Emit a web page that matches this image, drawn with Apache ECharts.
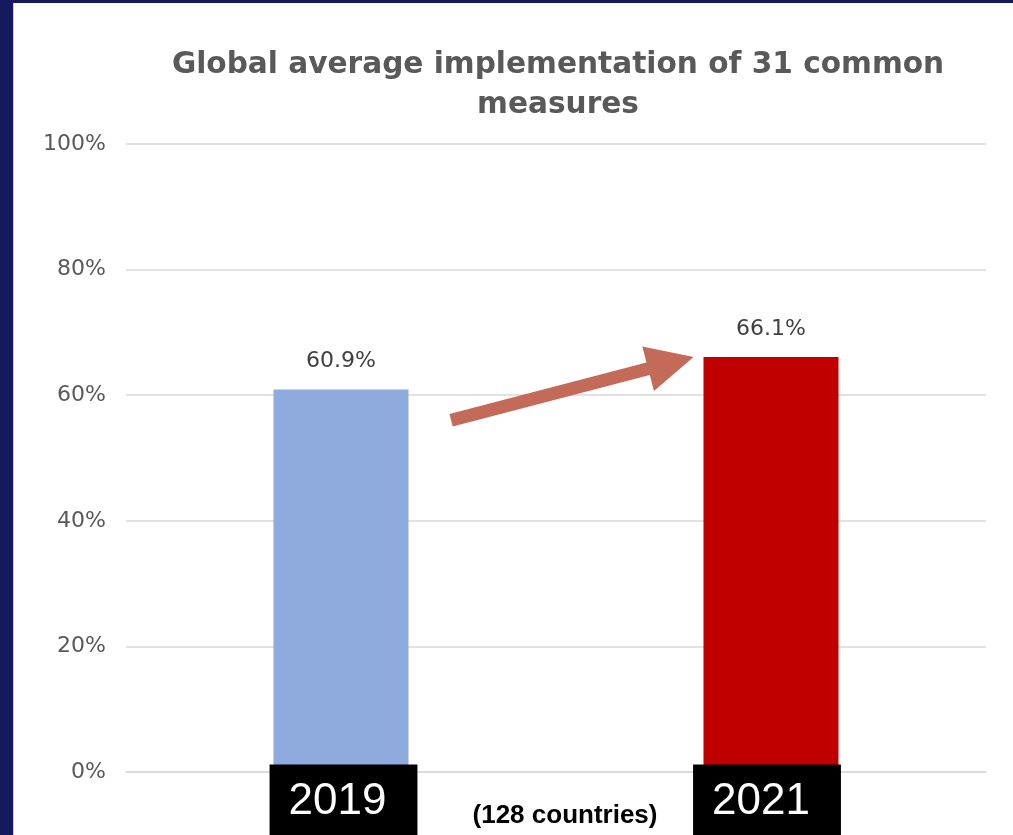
<!DOCTYPE html>
<html>
<head>
<meta charset="utf-8">
<script src="https://cdn.jsdelivr.net/npm/echarts@6/dist/echarts.min.js"></script>
<style>
html,body{margin:0;padding:0;background:#151a5e;width:1013px;height:835px;overflow:hidden;}
#chart{position:absolute;left:13px;top:3px;width:1000px;height:832px;background:#fff;border-left:1px solid #c8c8d0;}
</style>
</head>
<body>
<div id="chart"></div>
<script>
const titleLines = ['Global average implementation of 31 common', 'measures'];
const categories = ['2019', '2021'];
const values = [60.9, 66.1];
const barColors = ['#8faadc', '#c00000'];
const yTicks = [0, 20, 40, 60, 80, 100];
const footnote = '(128 countries)';
const arrowFrom = { cat: 0, offset: 0.256, value: 56.0 };
const arrowTo = { cat: 1, offset: -0.18, value: 66.1 };

const chart = echarts.init(document.getElementById('chart'));
const boxStyle = {
  fontFamily: 'Liberation Sans',
  fontSize: 44,
  lineHeight: 44,
  color: '#fff',
  backgroundColor: '#000',
  padding: [15, 31, 20, 19]
};
const option = {
  animation: false,
  backgroundColor: '#fff',
  grid: { left: 112, right: 28, top: 141, bottom: 63, containLabel: false, outerBoundsMode: 'none' },
  xAxis: {
    type: 'category',
    z: 5,
    data: categories,
    axisLine: { lineStyle: { color: '#d9d9d9', width: 1.5 } },
    axisTick: { show: false },
    axisLabel: {
      margin: 10,
      formatter: (v, i) => i === 0 ? '{sp0|}{box|' + v + '}' : '{box|' + v + '}{sp1|}',
      rich: {
        box: boxStyle,
        sp0: { width: 5, height: 10 },
        sp1: { width: 8, height: 10 }
      }
    }
  },
  yAxis: {
    type: 'value',
    min: yTicks[0],
    max: yTicks[yTicks.length - 1],
    interval: 20,
    axisLine: { show: false },
    axisTick: { show: false },
    splitLine: { lineStyle: { color: '#d9d9d9', width: 1.5 } },
    axisLabel: {
      margin: 20,
      formatter: '{value}%',
      fontFamily: 'DejaVu Sans',
      fontSize: 22,
      color: '#595959'
    }
  },
  series: [{
    type: 'bar',
    barWidth: '31.4%',
    data: values.map((v, i) => ({ value: v, itemStyle: { color: barColors[i] } })),
    label: {
      show: true,
      position: 'top',
      distance: 17,
      formatter: p => p.value.toFixed(1) + '%',
      fontFamily: 'DejaVu Sans',
      fontSize: 22,
      color: '#404040'
    }
  }]
};
chart.setOption(option);

function drawExtras() {
  const c0 = chart.convertToPixel({ xAxisIndex: 0 }, categories[0]);
  const c1 = chart.convertToPixel({ xAxisIndex: 0 }, categories[1]);
  const band = c1 - c0;
  const cx = [c0, c1];
  const tx = cx[arrowFrom.cat] + arrowFrom.offset * band;
  const ty = chart.convertToPixel({ yAxisIndex: 0 }, arrowFrom.value);
  const px = cx[arrowTo.cat] + arrowTo.offset * band;
  const py = chart.convertToPixel({ yAxisIndex: 0 }, arrowTo.value);
  const dx = px - tx, dy = py - ty;
  const len = Math.sqrt(dx * dx + dy * dy);
  const ux = dx / len, uy = dy / len;
  const nx = -uy, ny = ux;
  const sw = 6.5, hw = 23, hl = 47;
  const bx = px - ux * hl, by = py - uy * hl;
  const pts = [
    [tx + nx * sw, ty + ny * sw],
    [bx + nx * sw, by + ny * sw],
    [bx + nx * hw, by + ny * hw],
    [px, py],
    [bx - nx * hw, by - ny * hw],
    [bx - nx * sw, by - ny * sw],
    [tx - nx * sw, ty - ny * sw]
  ];
  const gridLeft = 112, gridRight = 1000 - 28;
  chart.setOption({
    graphic: [
      {
        type: 'polygon',
        shape: { points: pts },
        style: { fill: '#c46a59' },
        z: 10
      },
      {
        type: 'text',
        x: (gridLeft + gridRight) / 2 + 2,
        y: 82,
        style: {
          text: titleLines.join('\n'),
          fontFamily: 'DejaVu Sans',
          fontWeight: 'bold',
          fontSize: 29.6,
          lineHeight: 40,
          fill: '#595959',
          align: 'center',
          verticalAlign: 'middle'
        }
      },
      {
        type: 'text',
        x: 551,
        y: 813,
        style: {
          text: footnote,
          fontFamily: 'Liberation Sans',
          fontWeight: 'bold',
          fontSize: 26,
          fill: '#000',
          align: 'center',
          verticalAlign: 'middle'
        }
      }
    ]
  });
}
drawExtras();
</script>
</body>
</html>
